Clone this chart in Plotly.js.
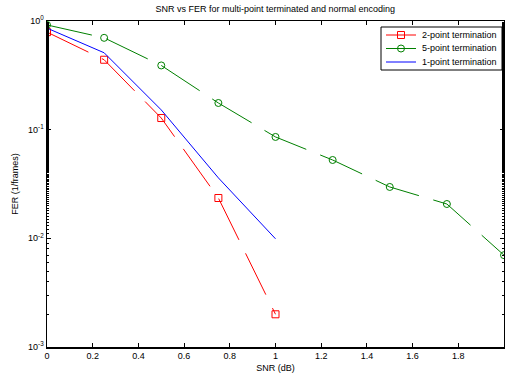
<!DOCTYPE html>
<html>
<head>
<meta charset="utf-8">
<script src="https://cdn.plot.ly/plotly-3.0.1.min.js"></script>
<style>html,body{margin:0;padding:0;background:#fff;}#chart{width:505px;height:379px;}</style>
</head>
<body>
<div id="chart"></div>
<script>
const snr2 = [0, 0.25, 0.5, 0.75, 1];
const fer2 = [0.79, 0.44, 0.128, 0.0235, 0.002];
const snr5 = [0, 0.25, 0.5, 0.75, 1, 1.25, 1.5, 1.75, 2];
const fer5 = [0.92, 0.70, 0.39, 0.176, 0.0857, 0.0526, 0.0297, 0.0207, 0.0070];
const snr1 = [0, 0.25, 0.5, 0.75, 1];
const fer1 = [0.86, 0.51, 0.152, 0.036, 0.0099];
const seriesNames = ['2-point termination', '5-point termination', '1-point termination'];
const xTicks = [0, 0.2, 0.4, 0.6, 0.8, 1, 1.2, 1.4, 1.6, 1.8, 2];
const xTickText = ['0', '0.2', '0.4', '0.6', '0.8', '1', '1.2', '1.4', '1.6', '1.8', '2'];
const yTicks = [0.001, 0.01, 0.1, 1];
const yTickText = ['10<sup>-3</sup>', '10<sup>-2</sup>', '10<sup>-1</sup>', '10<sup>0</sup>'];

const colors = ['#ff0000', '#008000', '#0000ff'];
const dashPat = '46px,15px';
const traces = [
  {x: snr2, y: fer2, name: seriesNames[0], mode: 'lines+markers',
   line: {color: colors[0], width: 1, dash: dashPat},
   marker: {symbol: 'square-open', size: 7, color: colors[0], line: {width: 1}}},
  {x: snr5, y: fer5, name: seriesNames[1], mode: 'lines+markers',
   line: {color: colors[1], width: 1, dash: dashPat},
   marker: {symbol: 'circle-open', size: 7, color: colors[1], line: {width: 1}}},
  {x: snr1, y: fer1, name: seriesNames[2], mode: 'lines',
   line: {color: colors[2], width: 1}}
];

// custom MATLAB-like legend (paper coords)
const L = 47, T = 21, W = 457, H = 326;
const px = v => (v - L) / W;
const py = v => 1 - (v - T) / H;
const rows = [35, 48.5, 62];
const shapes = [
  {type: 'rect', xref: 'paper', yref: 'paper', x0: px(381), x1: px(502), y0: py(70), y1: py(27),
   line: {color: '#000', width: 1}, fillcolor: '#fff', layer: 'above'}
];
const annotations = [];
rows.forEach((r, i) => {
  shapes.push({type: 'line', xref: 'paper', yref: 'paper', x0: px(386), x1: px(416), y0: py(r), y1: py(r),
               line: {color: colors[i], width: 1}, layer: 'above'});
  if (i === 0) shapes.push({type: 'rect', xref: 'paper', yref: 'paper', x0: px(397.5), x1: px(404.5),
               y0: py(r + 3.5), y1: py(r - 3.5), line: {color: colors[i], width: 1}, fillcolor: 'rgba(0,0,0,0)', layer: 'above'});
  if (i === 1) shapes.push({type: 'circle', xref: 'paper', yref: 'paper', x0: px(397.5), x1: px(404.5),
               y0: py(r + 3.5), y1: py(r - 3.5), line: {color: colors[i], width: 1}, fillcolor: 'rgba(0,0,0,0)', layer: 'above'});
  annotations.push({xref: 'paper', yref: 'paper', x: px(420), y: py(r), xanchor: 'left', yanchor: 'middle',
                    text: seriesNames[i], showarrow: false, font: {size: 9, color: '#000'}});
});

const layout = {
  width: 505, height: 379,
  margin: {l: 47, r: 1, t: 21, b: 32},
  paper_bgcolor: '#fff', plot_bgcolor: '#fff',
  font: {family: 'Liberation Sans, Arial, sans-serif', size: 9, color: '#000'},
  title: {text: 'SNR vs FER for multi-point terminated and normal encoding',
          font: {size: 9, color: '#000'}, x: 0.545, xanchor: 'center', y: 0.985, yanchor: 'top'},
  showlegend: false,
  shapes: shapes,
  annotations: annotations,
  xaxis: {range: [0, 2], tickvals: xTicks, ticktext: xTickText,
          ticks: 'inside', ticklen: 4, tickcolor: '#000', mirror: 'ticks',
          showline: true, linecolor: '#000', linewidth: 1.5, showgrid: false, zeroline: false,
          title: {text: 'SNR (dB)', font: {size: 9}, standoff: 4}},
  yaxis: {type: 'log', range: [-3, 0], tickvals: yTicks, ticktext: yTickText,
          ticks: 'inside', ticklen: 4, tickcolor: '#000', mirror: 'ticks',
          showline: true, linecolor: '#000', linewidth: 1.5, showgrid: false, zeroline: false,
          minor: {ticks: 'inside', ticklen: 2, tickcolor: '#000', showgrid: false},
          title: {text: 'FER (1/frames)', font: {size: 9}, standoff: 8}}
};

Plotly.newPlot('chart', traces, layout, {displayModeBar: false, staticPlot: true});
</script>
</body>
</html>
